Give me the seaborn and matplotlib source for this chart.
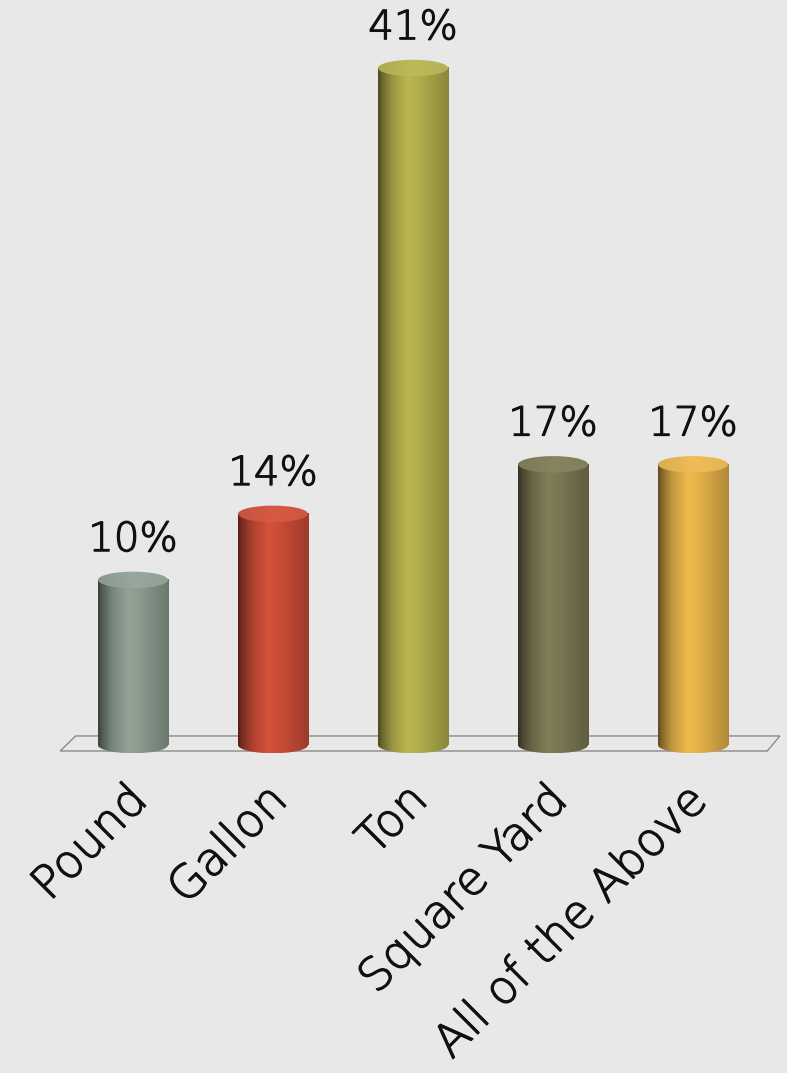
import numpy as np
import pandas as pd
import seaborn as sns
import matplotlib.pyplot as plt
import matplotlib.transforms as mtransforms
import matplotlib.patheffects as pe
from matplotlib.patches import Ellipse, Polygon
from matplotlib.colors import to_rgb

# data
answers = ["Pound", "Gallon", "Ton", "Square Yard", "All of the Above"]
percent = [10, 14, 41, 17, 17]
bar_colors = ["#8a9a8e", "#c94c36", "#b0ad4c", "#7a7652", "#e2b048"]

df = pd.DataFrame({"answer": answers, "percent": percent})

sns.set_theme(style="white")
plt.rcParams["font.family"] = ["DejaVu Sans"]

bg = "#e8e8e8"
ink = "#111111"
thicken = [pe.withStroke(linewidth=0.9, foreground=ink)]

fig = plt.figure(figsize=(7.87, 10.73), dpi=100, facecolor=bg)
ax = fig.add_axes([0, 0.2964, 1, 0.7036])
ax.set_facecolor(bg)

sns.barplot(data=df, x="answer", y="percent", hue="answer",
            palette=bar_colors, width=0.5, legend=False, ax=ax,
            saturation=1, zorder=3)

# collect the drawn bars in category order
bars = []
for cont in ax.containers:
    for b in cont:
        if b is not None and np.isfinite(b.get_height()) and b.get_height() > 0:
            bars.append(b)
bars.sort(key=lambda b: b.get_x())

# horizontal shading profile of a cylinder
t = np.linspace(0, 1, 200)
shade = np.interp(t, [0, 0.06, 0.2, 0.42, 0.6, 0.85, 1.0],
                  [0.42, 0.6, 0.86, 1.06, 1.0, 0.86, 0.78])
cap_h = 1.0

floor = Polygon([(-0.52, -0.36), (-0.41, 0.55), (4.62, 0.55), (4.53, -0.36)],
                closed=True, facecolor="none", edgecolor="#8a8a8a",
                linewidth=1.0, zorder=1)
ax.add_patch(floor)

for patch, col, val in zip(bars, bar_colors, percent):
    x0 = patch.get_x()
    w = patch.get_width()
    h = patch.get_height()
    cx = x0 + w / 2
    base = np.array(to_rgb(col))
    img = np.clip(shade[:, None] * base[None, :], 0, 1)[None, :, :]
    # body
    ax.imshow(img, extent=[x0, x0 + w, 0, h], aspect="auto", zorder=4)
    # bottom rounded base
    bot = Ellipse((cx, 0), w, cap_h, facecolor="none", edgecolor="none", zorder=4)
    ax.add_patch(bot)
    im = ax.imshow(img, extent=[x0, x0 + w, -cap_h / 2, 0.01], aspect="auto", zorder=4)
    im.set_clip_path(bot)
    # slightly lighter top cap
    cap_shade = np.interp(t, [0, 0.5, 1], [0.95, 1.05, 1.0])
    cap_img = np.clip(base[None, :] * cap_shade[:, None] * 0.94 + 0.06, 0, 1)[None, :, :]
    top = Ellipse((cx, h), w, cap_h, facecolor="none", edgecolor="none", zorder=5)
    ax.add_patch(top)
    im2 = ax.imshow(cap_img, extent=[x0, x0 + w, h - cap_h / 2, h + cap_h / 2],
                    aspect="auto", zorder=5)
    im2.set_clip_path(top)
    patch.set_visible(False)
    ax.annotate(f"{val}%", (cx, h), xytext=(0, 15), textcoords="offset points",
                ha="center", va="bottom", fontsize=29, fontweight="light",
                color=ink, zorder=6, path_effects=thicken)

ax.set_xlim(-0.95, 4.671)
ax.set_ylim(-0.6, 45.12)
ax.set_xlabel("")
ax.set_ylabel("")
ax.set_yticks([])
ax.tick_params(axis="x", length=0, pad=16)
ax.set_xticks(range(len(answers)))
ax.set_xticklabels(answers, rotation=45, ha="right", rotation_mode="anchor",
                   fontsize=33, fontweight="light", color=ink)
shift = mtransforms.ScaledTranslation(-8 / 100, 0, fig.dpi_scale_trans)
for lab in ax.get_xticklabels():
    lab.set_transform(lab.get_transform() + shift)
    lab.set_path_effects(thicken)
sns.despine(ax=ax, left=True, bottom=True)

fig.savefig("out.png", dpi=100, facecolor=bg)
